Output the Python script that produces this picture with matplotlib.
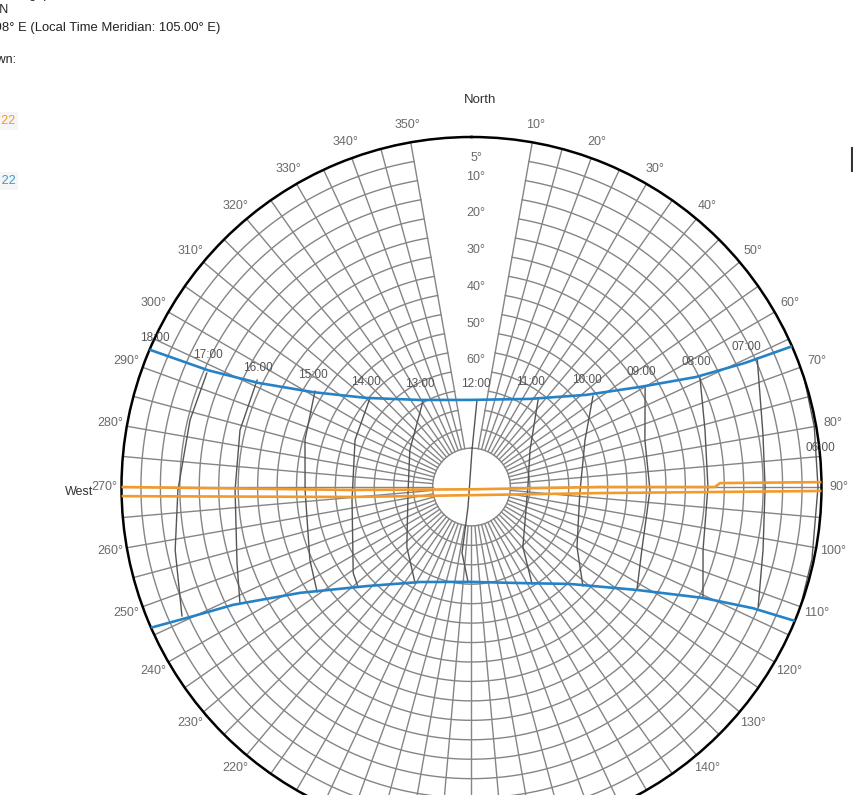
import numpy as np
import matplotlib
matplotlib.use("Agg")
from matplotlib import pyplot as plt
from matplotlib import transforms

plt.rcParams['font.family'] = ['Liberation Sans', 'DejaVu Sans']

W, H = 854, 795

# Sun path for 22 June: azimuth (deg, clockwise from north) and altitude (deg)
jun_az = [66.3, 65.6, 63.9, 59.3, 51.2, 33.6, 0.3, 329.4, 310.2, 300.9, 296.0, 293.9, 293.1]
jun_alt = [0, 12.8, 25.7, 39.6, 52.2, 62.8, 67.6, 64.0, 54.5, 42.5, 28.9, 15.9, 0]

# Sun path for 22 December
dec_az = [112.5, 113.3, 115.6, 121.9, 134.6, 150.9, 180.9, 208.5, 226.5, 238.3, 243.7, 245.2, 246.3]
dec_alt = [0, 11.2, 24.0, 39.9, 54.5, 61.7, 65.6, 62.2, 53.0, 38.2, 21.6, 10.3, 0]

# Equinox paths (22 March / 22 September)
mar_az = [89.2, 89.1, 90.0, 90.0, 168.7, 268.6, 270.0]
mar_alt = [0, 26.1, 27.4, 57.0, 89.4, 58.8, 0]
sep_az = [90.65, 92.7, 176.4, 265.3, 268.5]
sep_alt = [0, 56.9, 87.9, 58.7, 0]

# Hour lines (June -> December) for each clock hour
hour_line_times = ["06:00", "07:00", "08:00", "09:00", "10:00", "11:00",
                   "12:00", "13:00", "14:00", "15:00", "16:00", "17:00"]
hour_line_az = [
    [72.0, 80.0, 90.0, 102.0, 110.0],
    [65.7, 79.5, 90.0, 102.2, 112.7],
    [64.5, 76.3, 90.0, 105.2, 115.6],
    [60.3, 74.8, 91.0, 110.3, 121.9],
    [53.2, 67.5, 93.2, 119.6, 131.6],
    [37.4, 57.7, 90.0, 139.4, 148.0],
    [3.6, 0.8, 189.9, 188.2, 182.1],
    [330.6, 301.0, 264.6, 227.1, 210.5],
    [311.2, 292.0, 263.8, 234.0, 228.6],
    [301.5, 285.8, 269.0, 245.7, 235.8],
    [296.5, 283.8, 269.3, 252.0, 243.6],
    [293.3, 283.4, 269.4, 258.0, 246.0],
]
hour_line_alt = [
    [0.0, 0.5, 0.9, 0.5, 0.0],
    [9.4, 13.8, 14.5, 13.3, 10.1],
    [24.9, 28.2, 29.2, 28.3, 24.0],
    [38.6, 43.8, 44.1, 43.3, 39.9],
    [51.0, 58.4, 62.1, 58.8, 51.7],
    [61.8, 72.2, 75.5, 69.7, 60.6],
    [67.6, 80.5, 84.8, 72.9, 65.6],
    [64.6, 71.5, 73.6, 67.3, 61.4],
    [55.3, 57.7, 59.1, 52.4, 51.1],
    [42.8, 45.5, 47.2, 44.4, 42.0],
    [28.4, 28.7, 29.2, 26.6, 23.5],
    [15.9, 15.6, 14.5, 12.1, 8.5],
]

# Hour labels along the June path
hour_labels = ["06:00", "07:00", "08:00", "09:00", "10:00", "11:00", "12:00",
               "13:00", "14:00", "15:00", "16:00", "17:00", "18:00"]
hour_label_az = [83.6, 63.0, 60.9, 55.8, 47.2, 29.5, 2.5, 333.4, 314.9, 305.2, 299.1, 296.6, 295.2]
hour_label_alt = [-0.2, 10.8, 23.9, 37.3, 49.5, 59.0, 63.5, 60.4, 51.7, 40.1, 27.1, 14.2, 0.05]

alt_labels = [5, 10, 20, 30, 40, 50, 60]
# rim labels that fall inside the visible page
az_labels = [10, 20, 30, 40, 50, 60, 70, 80, 90, 100, 110, 120, 130, 140,
             220, 230, 240, 250, 260, 270, 280, 290, 300, 310, 320, 330, 340, 350]

grid_c = '#858585'
hour_c = '#555555'
blue = '#2682c6'
orange = '#f29a2c'


def rad(a):
    return np.radians(np.asarray(a, dtype=float))


def zen(alt):
    return 90 - np.asarray(alt, dtype=float)


fig = plt.figure(figsize=(W / 100, H / 100), dpi=100)
cx, cy, R = 471.5, 487, 350
ax = fig.add_axes([(cx - R) / W, (H - cy - R) / H, 2 * R / W, 2 * R / H], projection='polar')
ax.set_theta_zero_location('N')
ax.set_theta_direction(-1)
ax.grid(False)
ax.set_xticks([])
ax.set_yticks([])
ax.spines['polar'].set_color('black')
ax.spines['polar'].set_linewidth(1.8)

# altitude rings every 5 deg, open wedge around north
gap = 10
th = rad(np.linspace(gap, 360 - gap, 500))
for alt in range(5, 80, 5):
    ax.plot(th, np.full_like(th, zen(alt)), color=grid_c, lw=1.0, zorder=1)
full = np.linspace(0, 2 * np.pi, 300)
ax.plot(full, np.full_like(full, 10), color=grid_c, lw=1.0, zorder=1)

# azimuth spokes every 5 deg
for az in range(gap, 360 - gap + 1, 5):
    ax.plot([rad(az)] * 2, [10, 90], color=grid_c, lw=1.0, zorder=1)

# hour lines
for az, alt in zip(hour_line_az, hour_line_alt):
    ax.plot(rad(az), zen(alt), color=hour_c, lw=1.0, zorder=2)

# sun paths
ax.plot(rad(jun_az), zen(jun_alt), color=blue, lw=1.9, zorder=4)
ax.plot(rad(dec_az), zen(dec_alt), color=blue, lw=1.9, zorder=4)
ax.plot(rad(mar_az), zen(mar_alt), color=orange, lw=1.9, zorder=4)
ax.plot(rad(sep_az), zen(sep_alt), color=orange, lw=1.9, zorder=4)

ax.set_ylim(0, 90)

# hour labels
for t, az, alt in zip(hour_labels, hour_label_az, hour_label_alt):
    ax.text(rad(az), zen(alt), t, fontsize=8.5, color='#555555',
            ha='center', va='center', zorder=5)

# altitude labels inside the open wedge
shift = transforms.offset_copy(ax.transData, fig=fig, x=4.5, y=-3, units='dots')
for alt in alt_labels:
    ax.text(0, zen(alt) + 0.055 * alt, f"{alt}°", transform=shift, fontsize=9,
            color='#6a6a6a', ha='center', va='center')

# azimuth labels around the rim
for a in az_labels:
    ax.text(rad(a), 94.4, f"{a}°", fontsize=9, color='#6a6a6a',
            ha='center', va='center', clip_on=False)
ax.text(rad(1.3), 99.5, "North", fontsize=9.5, color='#333333',
        ha='center', va='center', clip_on=False)
ax.text(rad(269.2), 101.0, "West", fontsize=9, color='#333333',
        ha='center', va='center', clip_on=False)


def px(x, y):
    return x / W, 1 - y / H


# header block (runs off the left edge)
fig.text(*px(68, -2), "Location: Changi, Singapore", fontsize=9, color='#222222',
         ha='right', va='baseline')
fig.text(*px(8.5, 10), "Latitude: 1.35° N", fontsize=9, color='#222222',
         ha='right', va='center')
fig.text(*px(220, 28), "Longitude: 103.98° E (Local Time Meridian: 105.00° E)",
         fontsize=9.4, color='#222222', ha='right', va='center')
fig.text(*px(16, 60), "Dates shown:", fontsize=9, color='#222222',
         ha='right', va='center')
fig.text(*px(15.5, 121), "Mar 22", fontsize=9, color=orange, ha='right', va='center',
         bbox=dict(facecolor='#f5f5f5', edgecolor='none', pad=2))
fig.text(*px(15.5, 181), "Jun 22", fontsize=9, color='#3a9ad0', ha='right', va='center',
         bbox=dict(facecolor='#f5f5f5', edgecolor='none', pad=2))

# edge of a control on the right border
fig.add_artist(plt.Line2D([852.5 / W] * 2, [1 - 148 / H, 1 - 171 / H],
                          color='#333333', lw=1.5, transform=fig.transFigure))

fig.savefig('out.png', dpi=100, facecolor='white')
